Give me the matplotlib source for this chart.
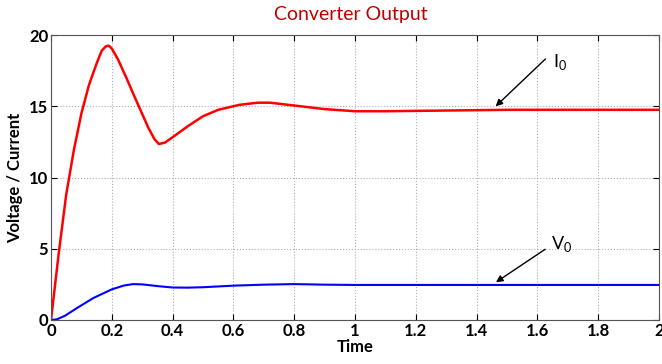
import matplotlib
matplotlib.use('Agg')
import matplotlib.pyplot as plt

plt.rcParams['font.family'] = ['Lato', 'DejaVu Sans']

# current (red)
t_cur = [0, 0.025, 0.05, 0.075, 0.1, 0.125, 0.15, 0.167, 0.18, 0.19, 0.2, 0.22,
         0.25, 0.27, 0.295, 0.32, 0.34, 0.355, 0.375, 0.405, 0.45, 0.5, 0.55, 0.62, 0.68,
         0.72, 0.8, 0.9, 1.0, 1.1, 1.3, 1.5, 2.0]
i_cur = [0, 4.6, 8.8, 11.9, 14.5, 16.5, 18.0, 18.9, 19.2, 19.25, 19.05, 18.3,
         16.9, 15.9, 14.7, 13.5, 12.7, 12.35, 12.45, 12.9, 13.6, 14.3, 14.75, 15.1, 15.25,
         15.25, 15.05, 14.8, 14.65, 14.65, 14.7, 14.75, 14.75]

# voltage (blue)
t_vol = [0, 0.02, 0.046, 0.09, 0.14, 0.2, 0.24, 0.27, 0.3, 0.35, 0.4, 0.45, 0.5, 0.6,
         0.7, 0.8, 0.9, 1.0, 2.0]
v_vol = [0, 0.05, 0.3, 0.9, 1.55, 2.15, 2.42, 2.52, 2.5, 2.38, 2.28, 2.27, 2.3, 2.41,
         2.48, 2.52, 2.48, 2.46, 2.46]

x_ticks = [0, 0.2, 0.4, 0.6, 0.8, 1, 1.2, 1.4, 1.6, 1.8, 2]
x_labels = ['0', '0.2', '0.4', '0.6', '0.8', '1', '1.2', '1.4', '1.6', '1.8', '2']
y_ticks = [0, 5, 10, 15, 20]

fig = plt.figure(figsize=(6.62, 3.64), dpi=100)
ax = fig.add_axes([51 / 662, 44 / 364, 608 / 662, 285 / 364])

ax.plot(t_cur, i_cur, color='#ff0000', lw=1.8)
ax.plot(t_vol, v_vol, color='#0000ff', lw=1.5)

ax.set_xlim(0, 2)
ax.set_ylim(0, 20)
ax.set_xticks(x_ticks)
ax.set_xticklabels(x_labels)
ax.set_yticks(y_ticks)
ax.grid(True, color='#b0b0b0', linestyle=':', linewidth=0.8)
ax.tick_params(direction='in', length=4, top=True, right=True, labelsize=12, pad=2)
for lbl in ax.get_xticklabels() + ax.get_yticklabels():
    lbl.set_fontweight('bold')
for s in ax.spines.values():
    s.set_color('#555555')
    s.set_linewidth(0.8)

ax.set_xlabel('Time', fontsize=12, fontweight='bold', labelpad=0)
ax.set_ylabel('Voltage / Current', fontsize=12, fontweight='bold', labelpad=4)
fig.text(0.53, 0.96, 'Converter Output', color='#c00000', fontsize=14,
         ha='center', va='center')

ax.annotate('', xy=(1.456, 14.86), xytext=(1.633, 18.45),
            arrowprops=dict(arrowstyle='-|>', color='black', lw=1, mutation_scale=10))
ax.text(1.65, 18.1, r'I$_{\mathregular{0}}$', fontsize=13, va='center', ha='left')
ax.annotate('', xy=(1.456, 2.54), xytext=(1.633, 5.07),
            arrowprops=dict(arrowstyle='-|>', color='black', lw=1, mutation_scale=10))
ax.text(1.645, 5.3, r'V$_{\mathregular{0}}$', fontsize=13, va='center', ha='left')

fig.savefig('out.png', dpi=100)
